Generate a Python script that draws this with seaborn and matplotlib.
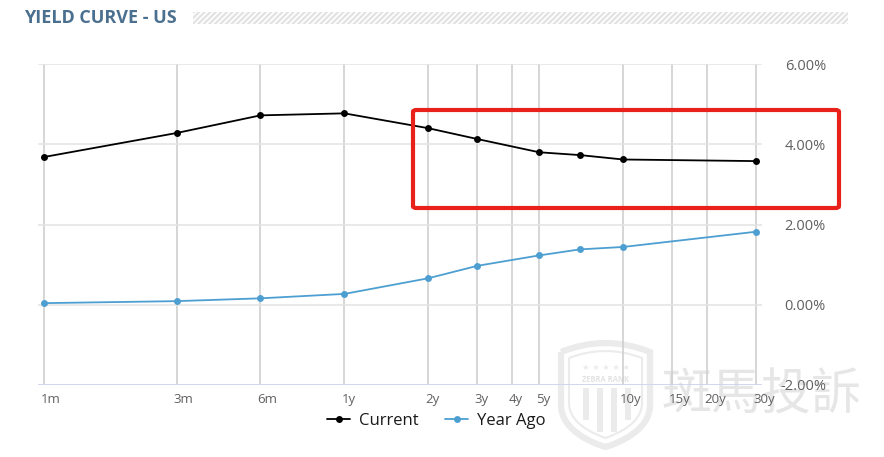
import matplotlib
matplotlib.use("Agg")
import matplotlib.pyplot as plt
import matplotlib.patches as mpatches
from matplotlib.path import Path
import seaborn as sns
import pandas as pd
import numpy as np

# ---- data ----
maturity_labels = ["1m", "3m", "6m", "1y", "2y", "3y", "4y", "5y", "10y", "15y", "20y", "30y"]
maturity_months_ticks = [1, 3, 6, 12, 24, 36, 48, 60, 120, 180, 240, 360]

point_labels = ["1m", "3m", "6m", "1y", "2y", "3y", "5y", "7y", "10y", "30y"]
point_months = [1, 3, 6, 12, 24, 36, 60, 84, 120, 360]
current = [3.68, 4.28, 4.72, 4.77, 4.40, 4.13, 3.80, 3.73, 3.62, 3.58]
year_ago = [0.04, 0.09, 0.16, 0.27, 0.66, 0.97, 1.23, 1.38, 1.44, 1.82]

y_ticks = [-2, 0, 2, 4, 6]

df = pd.DataFrame({
    "months": point_months * 2,
    "yield": current + year_ago,
    "Series": ["Current"] * len(current) + ["Year Ago"] * len(year_ago),
})

sns.set_theme(style="white")
plt.rcParams["font.family"] = ["Open Sans", "DejaVu Sans"]
plt.rcParams["hatch.linewidth"] = 1.6

W, H = 884, 457
fig = plt.figure(figsize=(W / 100, H / 100), dpi=100)


def fx(px):
    return px / W


def fy(py):
    return 1 - py / H


# watermark (drawn behind everything)
def shield_path(x0, x1, ytop_side, ytop_mid, yside, ybot):
    xm = (x0 + x1) / 2
    verts = [
        (fx(x0), fy(ytop_side)),
        (fx(xm), fy(2 * ytop_mid - ytop_side)),
        (fx(x1), fy(ytop_side)),
        (fx(x1), fy(yside)),
        (fx(x1), fy(yside + (ybot - yside) * 0.6)),
        (fx(xm + (x1 - x0) * 0.15), fy(ybot - 4)),
        (fx(xm), fy(ybot)),
        (fx(xm - (x1 - x0) * 0.15), fy(ybot - 4)),
        (fx(x0), fy(yside + (ybot - yside) * 0.6)),
        (fx(x0), fy(yside)),
        (fx(x0), fy(ytop_side)),
    ]
    codes = [Path.MOVETO, Path.CURVE3, Path.CURVE3, Path.LINETO,
             Path.CURVE4, Path.CURVE4, Path.CURVE4,
             Path.CURVE4, Path.CURVE4, Path.CURVE4,
             Path.LINETO]
    return Path(verts, codes)


wm_color = "#ebebeb"
WZ = -5
fig.add_artist(mpatches.PathPatch(shield_path(561, 650, 352, 343, 405, 447),
                                  transform=fig.transFigure, facecolor="none",
                                  edgecolor=wm_color, lw=4.5, zorder=WZ))
fig.add_artist(mpatches.PathPatch(shield_path(569, 642, 358, 351, 403, 438),
                                  transform=fig.transFigure, facecolor="none",
                                  edgecolor=wm_color, lw=1.5, zorder=WZ))
for sx in [583, 597, 611, 625]:
    ybot_s = 432 if sx in (597, 611) else 420
    fig.add_artist(mpatches.Rectangle((fx(sx), fy(ybot_s)), 6 / W, (ybot_s - 388) / H,
                                      transform=fig.transFigure, facecolor=wm_color,
                                      edgecolor="none", zorder=WZ))
fig.text(fx(606), fy(367), "★ ★ ★ ★ ★", fontsize=6, color=wm_color, ha="center",
         va="center", family=["DejaVu Sans"], zorder=WZ)
fig.text(fx(606), fy(380), "ZEBRA RANK", fontsize=5.5, color="#e3e3e3",
         ha="center", va="center", fontweight="bold", zorder=WZ)
fig.text(fx(662), fy(395), "斑馬投訴", fontsize=36, color="#e6e6e6",
         family=["Noto Sans CJK TC", "DejaVu Sans"], va="center", ha="left", zorder=WZ)

ax = fig.add_axes([fx(38), fy(385), (762 - 38) / W, (385 - 64) / H])
ax.patch.set_alpha(0)
ax.set_zorder(1)

palette = {"Current": "#000000", "Year Ago": "#4d9fd1"}
sns.lineplot(data=df, x="months", y="yield", hue="Series", palette=palette,
             marker="o", markersize=5, markeredgewidth=0, linewidth=1.3,
             ax=ax, legend=True)

ax.set_xscale("log")
ax.set_xlim(0.955, 378)
ax.set_ylim(-2, 6)
ax.set_xticks(maturity_months_ticks)
ax.set_xticklabels(maturity_labels)
ax.xaxis.set_minor_locator(matplotlib.ticker.NullLocator())
ax.set_yticks(y_ticks)
ax.set_yticklabels([f"{v:.2f}%" for v in y_ticks])
ax.yaxis.tick_right()
ax.set_xlabel("")
ax.set_ylabel("")

for s in ax.spines.values():
    s.set_visible(False)

# grid
for m in maturity_months_ticks:
    ax.axvline(m, color="#cccccc", lw=1.1, zorder=0)
for v in y_ticks[1:]:
    ax.axhline(v, color="#e3e3e3", lw=1.1, zorder=0)
ax.axhline(-2, color="#ccd6eb", lw=1.3, zorder=0)

ax.tick_params(axis="y", length=0, pad=46, labelsize=10.5, labelcolor="#606060")
for t in ax.get_yticklabels():
    t.set_ha("right")
ax.tick_params(axis="x", length=0, pad=6, labelsize=9.5, labelcolor="#606060")
offset = matplotlib.transforms.ScaledTranslation(-3 / 100, 0, fig.dpi_scale_trans)
for t in ax.get_xticklabels():
    t.set_ha("left")
    t.set_transform(t.get_transform() + offset)

# legend
handles, labels = ax.get_legend_handles_labels()
ax.get_legend().remove()
leg = fig.legend(handles, labels, loc="center", bbox_to_anchor=(fx(436), fy(421)),
                 ncol=2, frameon=False, fontsize=12, handlelength=1.4,
                 columnspacing=1.6, handletextpad=0.5)
for t in leg.get_texts():
    t.set_color("#1a1a1a")

# title + hatched bar
fig.text(fx(24), fy(18), "YIELD CURVE - US", fontsize=13, fontweight="bold",
         color="#4a6f8f", va="center", ha="left")
bar = mpatches.Rectangle((fx(193), fy(24)), (848 - 193) / W, 12 / H,
                         transform=fig.transFigure, facecolor="white",
                         edgecolor="#e2e2e2", hatch="//////", lw=0)
fig.add_artist(bar)

# red highlight box
box = mpatches.FancyBboxPatch((fx(413), fy(208)), (839 - 413) / W, (208 - 110) / H,
                              boxstyle="round,pad=0,rounding_size=0.004",
                              transform=fig.transFigure, facecolor="none",
                              edgecolor="#e8211b", lw=3, zorder=5)
fig.add_artist(box)

fig.savefig("out.png", dpi=100)
